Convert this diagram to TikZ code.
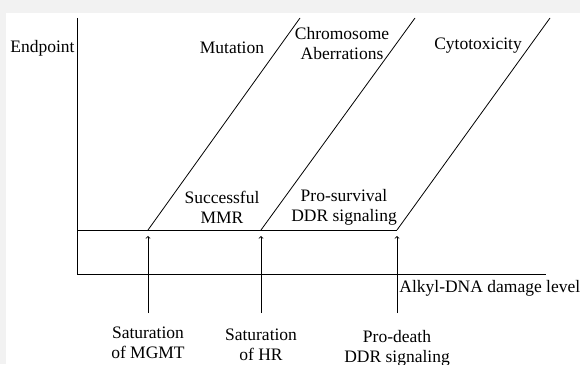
\documentclass[tikz,border=0pt]{standalone}
\usepackage{fontspec}
\setmainfont{Liberation Serif}
\usetikzlibrary{positioning}

\begin{document}
\begin{tikzpicture}[x=1pt,y=1pt,line width=0.8pt,
	lbl/.style={inner sep=0pt,align=center,font=\fontsize{17.5}{20}\selectfont},
	rise/.style={->,shorten >=0pt}]
\useasboundingbox (0,0) rectangle (580,364);
\fill[white] (0,0) rectangle (580,364);
% grey page margin, top and left
\fill[black!5] (0,351) rectangle (580,364);
\fill[black!5] (0,0) rectangle (6,364);

	% axes
	\coordinate (o) at (77,90);
	\coordinate (ytop) at (77,346);
	\coordinate (xend) at (546,90);
	% threshold line and the three endpoint curves
	\coordinate (b0) at (77,134);
	\coordinate (b1) at (148,134);
	\coordinate (b2) at (261,134);
	\coordinate (b3) at (397,134);
	\coordinate (t1) at (300,346);
	\coordinate (t2) at (415,346);
	\coordinate (t3) at (550,346);
	% arrow heads and tails
	\coordinate[below=6pt of b1] (a1);
	\coordinate[below=6pt of b2] (a2);
	\coordinate[below=6pt of b3] (a3);
	\coordinate[below=77pt of a1] (s1);
	\coordinate[below=77pt of a2] (s2);
	\coordinate[below=77pt of a3] (s3);

	\draw (ytop) -- (o) -- (xend);
	\draw (b0) -- (b3);
	\draw (b1) -- (t1);
	\draw (b2) -- (t2);
	\draw (b3) -- (t3);
	\draw[rise] (s1) -- (a1);
	\draw[rise] (s2) -- (a2);
	\draw[rise] (s3) -- (a3);

	\node[lbl, anchor=east] (endpoint) at (75,316) {Endpoint};
	\node[lbl] (mutation) at (232,316) {Mutation};
	\node[lbl] (chromo) at (342,320) {Chromosome\\Aberrations};
	\node[lbl] (cyto) at (478,318) {Cytotoxicity};
	\node[lbl] (mmr) at (222,157) {Successful\\MMR};
	\node[lbl] (survival) at (344,157) {Pro-survival\\DDR signaling};
	\node[lbl, anchor=west] (damage) at (399,76) {Alkyl-DNA damage level};
	\node[lbl, below=14pt of s1] (mgmt) {Saturation\\of MGMT};
	\node[lbl, below=16pt of s2] (hr) {Saturation\\of HR};
	\node[lbl, below=17pt of s3] (death) {Pro-death\\DDR signaling};
\end{tikzpicture}
\end{document}
